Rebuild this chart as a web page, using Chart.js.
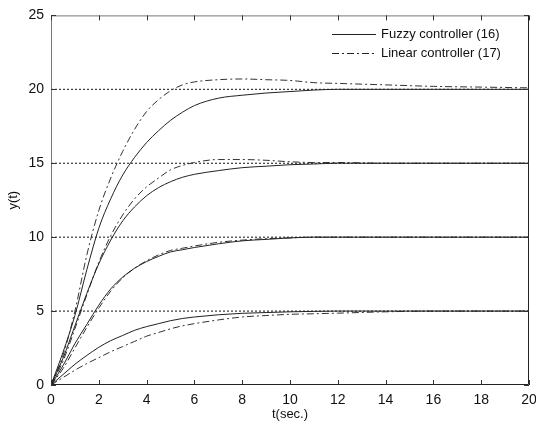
<!DOCTYPE html>
<html><head><meta charset="utf-8">
<script src="https://cdn.jsdelivr.net/npm/chart.js@4/dist/chart.umd.min.js"></script>
<style>html,body{margin:0;padding:0;background:#fff;}#wrap{width:536px;height:425px;}</style>
</head><body><div id="wrap"><canvas id="c" width="536" height="425"></canvas></div>
<script>
const timeGrid = [0,0.5,1,1.5,2,2.5,3,3.5,4,4.5,5,5.5,6,7,8,9,10,11,12,14,16,18,20];
const fuzzy20  = [0,2.2,4.7,7.8,10.6,12.6,14.2,15.4,16.4,17.2,17.9,18.45,18.9,19.4,19.6,19.75,19.85,19.95,20,20,20,20,20];
const linear20 = [0,2.0,5.0,8.8,11.8,14.0,15.8,17.3,18.5,19.3,19.9,20.3,20.5,20.65,20.7,20.65,20.6,20.45,20.4,20.3,20.2,20.15,20.1];
const fuzzy15  = [0,1.8,4.0,6.2,8.2,9.8,11.1,12.05,12.8,13.35,13.75,14.05,14.25,14.5,14.7,14.8,14.9,14.95,15,15,15,15,15];
const linear15 = [0,1.6,3.8,6.1,8.3,10.1,11.5,12.6,13.4,14.0,14.55,14.85,15.05,15.25,15.25,15.2,15.1,15.05,15.05,15,15,15,15];
const fuzzy10  = [0,1.3,2.8,4.1,5.4,6.5,7.3,7.9,8.35,8.7,9.0,9.15,9.3,9.55,9.75,9.85,9.95,10,10,10,10,10,10];
const linear10 = [0,1.1,2.5,3.9,5.2,6.35,7.25,7.9,8.4,8.8,9.1,9.25,9.4,9.65,9.8,9.9,9.95,10,10,10,10,10,10];
const fuzzy5   = [0,0.7,1.4,2.0,2.55,3.0,3.35,3.7,3.95,4.15,4.35,4.5,4.6,4.75,4.85,4.9,4.95,4.98,5,5,5,5,5];
const linear5  = [0,0.5,1.0,1.45,1.85,2.25,2.6,2.95,3.3,3.55,3.8,4.0,4.15,4.4,4.6,4.7,4.78,4.82,4.86,4.95,5,5,5];
const setpoints = [5,10,15,20];
const xTicks = [0,2,4,6,8,10,12,14,16,18,20];
const yTicks = [0,5,10,15,20,25];
const legendLabels = ['Fuzzy controller (16)','Linear controller (17)'];

const FONT = '"Liberation Sans", Arial, sans-serif';
const pts = arr => arr.map((v,i)=>({x:timeGrid[i], y:v}));
const DASHDOT = [7,3,2,3];

const datasets = [];
setpoints.forEach(s=>{
  datasets.push({data:[{x:0,y:s},{x:20,y:s}], borderColor:'#111', borderWidth:1, borderDash:[2,2], pointRadius:0, order:3});
});
[fuzzy20,fuzzy15,fuzzy10,fuzzy5].forEach(a=>{
  datasets.push({data:pts(a), borderColor:'#222', borderWidth:1, pointRadius:0, cubicInterpolationMode:'monotone', order:1});
});
[linear20,linear15,linear10,linear5].forEach(a=>{
  datasets.push({data:pts(a), borderColor:'#333', borderWidth:1, borderDash:DASHDOT, pointRadius:0, cubicInterpolationMode:'monotone', order:2});
});

const frame = {
  id:'frame',
  afterDraw(chart){
    const {ctx, chartArea:a, scales} = chart;
    ctx.save();
    ctx.lineWidth = 1;
    ctx.strokeStyle = '#777';
    ctx.beginPath(); ctx.moveTo(a.left+0.5,a.bottom); ctx.lineTo(a.left+0.5,a.top+0.5); ctx.lineTo(a.right,a.top+0.5); ctx.stroke();
    ctx.strokeStyle = '#222';
    ctx.beginPath(); ctx.moveTo(a.left,a.bottom-0.5); ctx.lineTo(a.right-0.5,a.bottom-0.5); ctx.lineTo(a.right-0.5,a.top); ctx.stroke();
    ctx.strokeStyle = '#333';
    ctx.beginPath();
    xTicks.forEach(v=>{
      const x = Math.round(scales.x.getPixelForValue(v))+0.5;
      ctx.moveTo(x,a.bottom); ctx.lineTo(x,a.bottom-5);
      ctx.moveTo(x,a.top); ctx.lineTo(x,a.top+5);
    });
    yTicks.forEach(v=>{
      const y = Math.round(scales.y.getPixelForValue(v))+0.5;
      ctx.moveTo(a.left,y); ctx.lineTo(a.left+5,y);
      ctx.moveTo(a.right,y); ctx.lineTo(a.right-5,y);
    });
    ctx.stroke();
    const lx0 = a.right-197, lx1 = a.right-153, tx = a.right-148;
    const ys = [a.top+19, a.top+38];
    ctx.font = '13px '+FONT; ctx.fillStyle='#111'; ctx.textBaseline='middle';
    ys.forEach((y,i)=>{
      ctx.strokeStyle='#222';
      ctx.setLineDash(i===0?[]:DASHDOT);
      ctx.beginPath(); ctx.moveTo(lx0,Math.round(y)+0.5); ctx.lineTo(lx1,Math.round(y)+0.5); ctx.stroke();
      ctx.setLineDash([]);
      ctx.fillText(legendLabels[i], tx, y);
    });
    ctx.restore();
  }
};

new Chart(document.getElementById('c'), {
  type:'line',
  data:{datasets},
  options:{
    responsive:false, animation:false,
    layout:{padding:{left:0,top:14,right:0,bottom:0}},
    plugins:{legend:{display:false}, tooltip:{enabled:false}},
    scales:{
      x:{type:'linear', min:0, max:20,
        afterBuildTicks: s=>{ s.ticks = xTicks.map(v=>({value:v})); },
        afterFit: s=>{ s.height = 40; s.paddingRight = 7; },
        grid:{display:false, drawTicks:false}, border:{display:false},
        ticks:{color:'#111', font:{family:FONT,size:14}, padding:7, maxRotation:0},
        title:{display:true, text:'t(sec.)', color:'#111', font:{family:FONT,size:13}, padding:{top:0,bottom:3}}
      },
      y:{type:'linear', min:0, max:25,
        afterBuildTicks: s=>{ s.ticks = yTicks.map(v=>({value:v})); },
        afterFit: s=>{ s.width = 51; },
        grid:{display:false, drawTicks:false}, border:{display:false},
        ticks:{color:'#111', font:{family:FONT,size:14}, padding:7},
        title:{display:true, text:'y(t)', color:'#111', font:{family:FONT,size:13}, padding:{top:6,bottom:0}}
      }
    }
  },
  plugins:[frame]
});
</script></body></html>
